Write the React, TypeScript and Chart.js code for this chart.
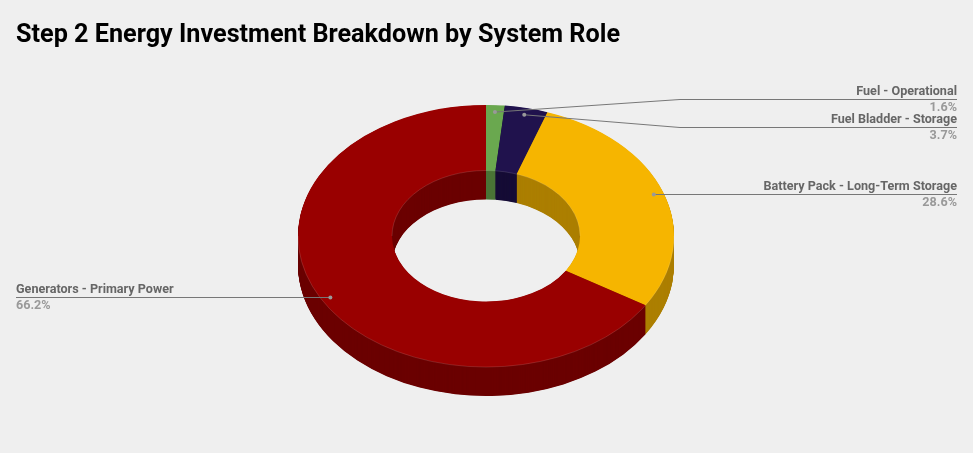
import React, { useEffect, useRef } from "react";
import Chart from "chart.js/auto";

const categories = [
  "Fuel - Operational",
  "Fuel Bladder - Storage",
  "Battery Pack - Long-Term Storage",
  "Generators - Primary Power",
];
const shares = [1.6, 3.7, 28.6, 66.2];
const shareLabels = ["1.6%", "3.7%", "28.6%", "66.2%"];
const topColors = ["#6aa84f", "#20124d", "#f6b500", "#990000"];
const wallColors = ["#4a7537", "#160c36", "#ac7f00", "#6b0000"];

// where the leader lines run to, per slice (flat = straight across from the dot)
const leaders = [
  { elbowX: 680, y: 99, endX: 957, align: "right", flat: false },
  { elbowX: 680, y: 127, endX: 957, align: "right", flat: false },
  { elbowX: 680, y: 194, endX: 957, align: "right", flat: true },
  { elbowX: 200, y: 297, endX: 16, align: "left", flat: true },
];

const TILT = 0.697;
const FACE_Y = 236;
const DEPTH = 29;
const ANCHOR_RADIUS = 0.947;

function tilt(ctx: CanvasRenderingContext2D, cx: number, cy: number, dy = 0) {
  ctx.translate(cx, FACE_Y + dy);
  ctx.scale(1, TILT);
  ctx.translate(-cx, -cy);
}

const pie3d = {
  id: "pie3d",
  beforeDatasetsDraw(chart: any) {
    const ctx = chart.ctx as CanvasRenderingContext2D;
    const arcs = chart.getDatasetMeta(0).data;
    // stack of darker copies for the side walls
    for (let dy = DEPTH; dy > 0; dy -= 0.5) {
      arcs.forEach((arc: any, i: number) => {
        ctx.save();
        tilt(ctx, arc.x, arc.y, dy);
        ctx.beginPath();
        ctx.arc(arc.x, arc.y, arc.outerRadius, arc.startAngle, arc.endAngle);
        ctx.arc(arc.x, arc.y, arc.innerRadius, arc.endAngle, arc.startAngle, true);
        ctx.closePath();
        ctx.fillStyle = wallColors[i];
        ctx.fill();
        ctx.restore();
      });
    }
    ctx.save();
    tilt(ctx, arcs[0].x, arcs[0].y);
  },
  afterDatasetsDraw(chart: any) {
    const ctx = chart.ctx as CanvasRenderingContext2D;
    ctx.restore();
    const arcs = chart.getDatasetMeta(0).data;
    const { x, y, outerRadius, innerRadius } = arcs[0];

    // pale hairline where the top face meets the walls
    ctx.save();
    tilt(ctx, x, y);
    ctx.beginPath();
    ctx.arc(x, y, outerRadius, 0, Math.PI);
    ctx.moveTo(x - innerRadius, y);
    ctx.arc(x, y, innerRadius, Math.PI, 2 * Math.PI);
    ctx.restore();
    ctx.strokeStyle = "rgba(255,255,255,0.22)";
    ctx.lineWidth = 0.6;
    ctx.stroke();

    // leader lines + labels
    arcs.forEach((arc: any, i: number) => {
      const l = leaders[i];
      const mid = (arc.startAngle + arc.endAngle) / 2;
      const ax = arc.x + Math.cos(mid) * arc.outerRadius * ANCHOR_RADIUS;
      const ay = l.flat
        ? l.y + 0.5
        : FACE_Y + Math.sin(mid) * arc.outerRadius * ANCHOR_RADIUS * TILT;

      ctx.strokeStyle = "#777777";
      ctx.lineWidth = 1;
      ctx.beginPath();
      ctx.moveTo(ax, ay);
      ctx.lineTo(l.elbowX, l.y + 0.5);
      ctx.lineTo(l.endX, l.y + 0.5);
      ctx.stroke();

      ctx.fillStyle = "#999999";
      ctx.beginPath();
      ctx.arc(ax, ay, 2, 0, 2 * Math.PI);
      ctx.fill();

      ctx.textAlign = l.align as CanvasTextAlign;
      ctx.textBaseline = "alphabetic";
      ctx.font = "bold 12.6px Roboto";
      ctx.fillStyle = "#666666";
      ctx.fillText(categories[i], l.endX, l.y - 4);
      ctx.fillStyle = "#999999";
      ctx.fillText(shareLabels[i], l.endX, l.y + 12);
    });
  },
};

export default function App() {
  const canvasRef = useRef<HTMLCanvasElement | null>(null);

  useEffect(() => {
    if (!canvasRef.current) return;
    const chart = new Chart(canvasRef.current, {
      type: "doughnut",
      data: {
        labels: categories,
        datasets: [
          {
            data: shares,
            backgroundColor: topColors,
            borderWidth: 0,
            clip: false,
          } as any,
        ],
      },
      options: {
        responsive: false,
        animation: false,
        cutout: "50%",
        layout: { padding: { left: 16, right: 17, top: 0, bottom: 0 } },
        plugins: {
          legend: { display: false },
          tooltip: { enabled: false },
          title: {
            display: true,
            text: "Step 2 Energy Investment Breakdown by System Role",
            align: "start",
            color: "#000000",
            font: { family: "Roboto", size: 25.2, weight: "bold" },
            padding: { top: 21, bottom: 25.76 },
          },
        },
      },
      plugins: [pie3d],
    });
    return () => chart.destroy();
  }, []);

  return (
    <div style={{ position: "absolute", left: 0, top: 0, width: 973, height: 453, background: "#efefef" }}>
      <canvas ref={canvasRef} width={973} height={453} style={{ display: "block" }}></canvas>
    </div>
  );
}
